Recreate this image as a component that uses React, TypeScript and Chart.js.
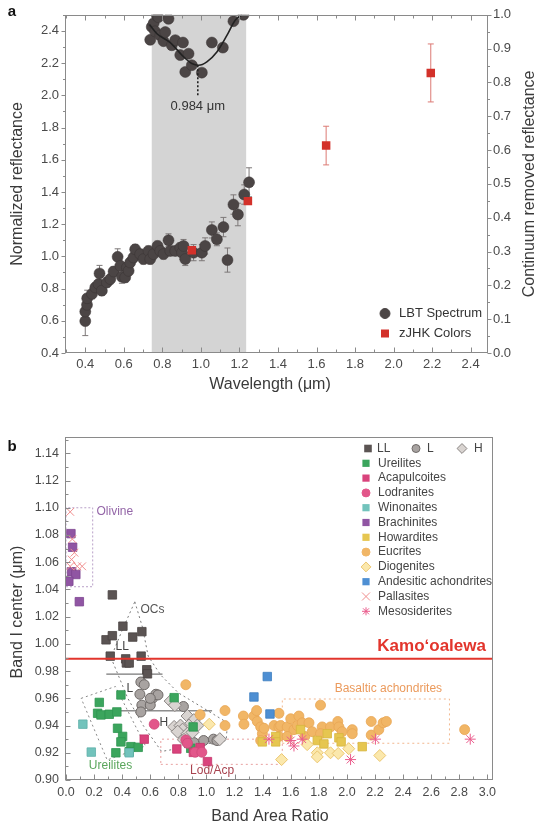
import React, { useEffect, useRef } from "react";
import { Chart, registerables } from "chart.js";

Chart.register(...registerables);

const FONT = '"Liberation Sans", Arial, Helvetica, sans-serif';
const AXIS = "#8a8a8a";
const TICK_COLOR = "#4a4a4a";
const TITLE_COLOR = "#3a3a3a";

// ---------------- Panel a data ----------------
const lbtWavelength = [0.40, 0.40, 0.409, 0.41, 0.435, 0.452, 0.469, 0.474, 0.486, 0.512, 0.53, 0.547, 0.568, 0.582, 0.59, 0.607, 0.616, 0.625, 0.633, 0.65, 0.659, 0.685, 0.702, 0.728, 0.737, 0.754, 0.775, 0.789, 0.806, 0.832, 0.841, 0.867, 0.893, 0.902, 0.91, 0.919, 0.962, 1.005, 1.022, 1.057, 1.083, 1.117, 1.138, 1.169, 1.192, 1.225, 1.25];
const lbtReflectance = [0.598, 0.657, 0.699, 0.74, 0.767, 0.807, 0.828, 0.894, 0.787, 0.838, 0.859, 0.906, 0.997, 0.941, 0.873, 0.869, 0.931, 0.91, 0.962, 0.993, 1.044, 1.014, 0.983, 1.034, 0.983, 1.014, 1.065, 1.034, 1.014, 1.1, 1.034, 1.034, 1.054, 1.023, 1.065, 0.983, 1.023, 1.023, 1.065, 1.164, 1.106, 1.182, 0.977, 1.322, 1.26, 1.384, 1.46];
const lbtError = [0.09, 0.03, 0.03, 0.05, 0.03, 0.03, 0.03, 0.05, 0.03, 0.03, 0.03, 0.03, 0.05, 0.03, 0.04, 0.03, 0.03, 0.03, 0.03, 0.03, 0.03, 0.03, 0.03, 0.03, 0.03, 0.03, 0.03, 0.03, 0.03, 0.04, 0.03, 0.03, 0.03, 0.04, 0.04, 0.04, 0.05, 0.05, 0.05, 0.05, 0.04, 0.06, 0.075, 0.06, 0.07, 0.06, 0.09];

const zjhkWavelength = [0.953, 1.244, 1.65, 2.193];
const zjhkReflectance = [1.038, 1.343, 1.688, 2.139];
const zjhkError = [0, 0, 0.12, 0.18];

const crWavelength = [0.737, 0.745, 0.755, 0.762, 0.772, 0.779, 0.789, 0.806, 0.815, 0.832, 0.849, 0.867, 0.893, 0.907, 0.919, 0.936, 0.953, 1.005, 1.057, 1.114, 1.169, 1.221];
const crReflectance = [0.926, 0.964, 0.975, 0.951, 0.998, 0.993, 0.939, 0.922, 0.949, 0.988, 0.91, 0.925, 0.881, 0.918, 0.831, 0.885, 0.851, 0.829, 0.918, 0.903, 0.981, 1.0];

const fitWavelength = [0.733, 0.772, 0.841, 0.91, 0.953, 0.988, 1.031, 1.083, 1.135, 1.178, 1.213];
const fitReflectance = [0.971, 0.944, 0.918, 0.876, 0.856, 0.851, 0.861, 0.89, 0.939, 0.984, 1.0];

const bandCenter = 0.984;
const bandCenterDrop = [0.851, 0.757];
const shadeBand = [0.745, 1.235];

const aTicksX = [0.4, 0.6, 0.8, 1.0, 1.2, 1.4, 1.6, 1.8, 2.0, 2.2, 2.4];
const aTicksY = [0.4, 0.6, 0.8, 1.0, 1.2, 1.4, 1.6, 1.8, 2.0, 2.2, 2.4];
const aTicksY2 = [0.0, 0.1, 0.2, 0.3, 0.4, 0.5, 0.6, 0.7, 0.8, 0.9, 1.0];

// ---------------- Panel b data ----------------
const llPoints = [[0.33, 1.036], [0.405, 1.013], [0.285, 1.003], [0.33, 1.006], [0.475, 1.005], [0.54, 1.009], [0.315, 0.991], [0.425, 0.989], [0.43, 0.986], [0.45, 0.986], [0.535, 0.991], [0.575, 0.981], [0.58, 0.978]];
const lPoints = [[0.533, 0.972], [0.557, 0.970], [0.526, 0.963], [0.616, 0.960], [0.64, 0.963], [0.655, 0.9625], [0.54, 0.955], [0.60, 0.955], [0.533, 0.950], [0.836, 0.954], [0.98, 0.929], [1.05, 0.930], [1.075, 0.929], [0.91, 0.9275], [0.60, 0.96]];
const hPoints = [[0.745, 0.958], [0.775, 0.955], [0.865, 0.947], [0.91, 0.944], [0.875, 0.940], [0.77, 0.939], [0.815, 0.940], [0.935, 0.940], [0.83, 0.937], [0.795, 0.9355], [0.865, 0.934], [1.095, 0.930], [0.84, 0.9295], [0.90, 0.935]];
const ureilitePoints = [[0.391, 0.9625], [0.237, 0.957], [0.225, 0.949], [0.249, 0.9478], [0.308, 0.9483], [0.362, 0.950], [0.367, 0.938], [0.403, 0.932], [0.391, 0.928], [0.462, 0.9245], [0.514, 0.924], [0.45, 0.9208], [0.355, 0.920], [0.77, 0.9605], [0.905, 0.939], [0.888, 0.9233]];
const acapulcoitePoints = [[0.557, 0.930], [0.789, 0.9228], [0.907, 0.9203], [0.955, 0.9238], [1.007, 0.9135]];
const lodranitePoints = [[0.628, 0.941], [0.853, 0.9294], [0.865, 0.927], [0.919, 0.9204], [0.967, 0.9204]];
const winonaitePoints = [[0.12, 0.941], [0.18, 0.9205], [0.45, 0.920]];
const brachinitePoints = [[0.035, 1.081], [0.047, 1.071], [0.04, 1.053], [0.07, 1.051], [0.02, 1.046], [0.095, 1.031]];
const howarditePoints = [[1.398, 0.928], [1.493, 0.932], [1.493, 0.928], [1.67, 0.937], [1.789, 0.929], [1.836, 0.9265], [1.86, 0.934], [1.943, 0.931], [1.959, 0.928], [2.109, 0.9245]];
const eucritePoints = [[0.853, 0.970], [0.955, 0.948], [1.132, 0.951], [1.132, 0.940], [1.263, 0.947], [1.267, 0.941], [1.338, 0.947], [1.357, 0.951], [1.362, 0.943], [1.386, 0.939], [1.398, 0.934], [1.386, 0.929], [1.41, 0.938], [1.481, 0.940], [1.516, 0.949], [1.516, 0.939], [1.528, 0.940], [1.516, 0.932], [1.575, 0.939], [1.575, 0.932], [1.60, 0.945], [1.623, 0.937], [1.658, 0.947], [1.647, 0.940], [1.682, 0.942], [1.70, 0.932], [1.73, 0.942], [1.753, 0.9355], [1.812, 0.955], [1.824, 0.939], [1.812, 0.934], [1.883, 0.939], [1.935, 0.943], [1.943, 0.939], [1.966, 0.9355], [2.038, 0.937], [2.038, 0.934], [2.173, 0.943], [2.173, 0.933], [2.227, 0.937], [2.258, 0.942], [2.281, 0.943], [2.838, 0.937]];
const diogenitePoints = [[1.02, 0.941], [1.535, 0.915], [1.717, 0.926], [1.789, 0.920], [1.789, 0.917], [1.883, 0.920], [1.938, 0.9195], [2.013, 0.923], [2.234, 0.918]];
const andesiticPoints = [[1.433, 0.976], [1.338, 0.961], [1.452, 0.9485]];
const pallasitePoints = [[0.03, 1.097], [0.045, 1.077], [0.06, 1.067], [0.04, 1.062], [0.03, 1.057], [0.08, 1.057], [0.115, 1.057]];
const mesosideritePoints = [[1.445, 0.930], [1.623, 0.925], [1.682, 0.930], [1.60, 0.929], [2.026, 0.915], [2.203, 0.930], [2.878, 0.930]];

const kamoBandCenter = 0.989;
const olivineBox = [[0.0, 1.042], [0.19, 1.042], [0.19, 1.100], [0.0, 1.100]];
const ocsRegion = [[0.49, 1.031], [0.545, 1.012], [0.585, 0.991], [0.675, 0.977], [0.80, 0.964], [0.96, 0.954], [1.15, 0.942], [1.14, 0.929], [0.97, 0.926], [0.68, 0.921], [0.55, 0.94], [0.44, 0.96], [0.32, 0.99], [0.40, 1.01], [0.49, 1.031]];
const ureiliteRegion = [[0.108, 0.960], [0.352, 0.9687], [0.566, 0.925], [0.293, 0.9147], [0.108, 0.960]];
const lodAcpBox = [[0.675, 0.9115], [1.54, 0.9115], [1.54, 0.930], [0.675, 0.930], [0.675, 0.9115]];
const basalticBox = [[1.54, 0.927], [2.73, 0.927], [2.73, 0.9595], [1.54, 0.9595], [1.54, 0.927]];
const llLBoundary = [[0.287, 0.9778], [0.687, 0.9778]];
const lHBoundary = [[0.359, 0.9508], [1.04, 0.9508]];

const bTicksX = [0.0, 0.2, 0.4, 0.6, 0.8, 1.0, 1.2, 1.4, 1.6, 1.8, 2.0, 2.2, 2.4, 2.6, 2.8, 3.0];
const bTicksY = [0.90, 0.92, 0.94, 0.96, 0.98, 1.00, 1.02, 1.04, 1.06, 1.08, 1.10, 1.12, 1.14];

// ---------------- helpers ----------------
const pts = (arr: number[][]) => arr.map(([x, y]) => ({ x, y }));
const zip = (xs: number[], ys: number[]) => xs.map((x, i) => ({ x, y: ys[i] }));

function stepRange(a: number, b: number, s: number) {
  const out: number[] = [];
  const n = Math.round((b - a) / s);
  for (let i = 0; i <= n; i++) out.push(+(a + i * s).toFixed(4));
  return out;
}

function linScale(min: number, max: number, ticks: number[], dec: number, position: string, size: number, pad: number, fontSize: number) {
  return {
    type: "linear",
    position,
    min,
    max,
    grid: { display: false, drawTicks: false },
    border: { display: false },
    ticks: {
      color: TICK_COLOR,
      font: { family: FONT, size: fontSize },
      padding: pad,
      autoSkip: false,
      maxRotation: 0,
      callback: (v: any) => Number(v).toFixed(dec),
    },
    afterBuildTicks: (s: any) => {
      s.ticks = ticks.map((v) => ({ value: v }));
    },
    afterFit: (s: any) => {
      if (position === "left" || position === "right") s.width = size;
      else s.height = size;
    },
  };
}

function tickMarks(ctx: CanvasRenderingContext2D, scale: any, values: number[], len: number, axis: "x" | "y", at: number, dir: number) {
  ctx.beginPath();
  for (const v of values) {
    const p = Math.round(scale.getPixelForValue(v)) + 0.5;
    if (axis === "x") {
      ctx.moveTo(p, at);
      ctx.lineTo(p, at + dir * len);
    } else {
      ctx.moveTo(at, p);
      ctx.lineTo(at + dir * len, p);
    }
  }
  ctx.stroke();
}

function frame(ctx: CanvasRenderingContext2D, ca: any) {
  ctx.strokeStyle = AXIS;
  ctx.lineWidth = 1;
  const l = Math.round(ca.left) - 0.5;
  const t = Math.round(ca.top) + 0.5;
  const r = Math.round(ca.right) - 0.5;
  const b = Math.round(ca.bottom) - 0.5;
  ctx.strokeRect(l, t, r - l, b - t);
}

function text(ctx: CanvasRenderingContext2D, s: string, x: number, y: number, font: string, color: string, align: CanvasTextAlign = "center", rot = 0) {
  ctx.save();
  ctx.font = font;
  ctx.fillStyle = color;
  ctx.textAlign = align;
  ctx.textBaseline = "middle";
  ctx.translate(x, y);
  if (rot) ctx.rotate(rot);
  ctx.fillText(s, 0, 0);
  ctx.restore();
}

function marker(ctx: CanvasRenderingContext2D, shape: string, x: number, y: number, r: number, fill: string, stroke: string) {
  ctx.save();
  ctx.fillStyle = fill;
  ctx.strokeStyle = stroke;
  ctx.lineWidth = 1;
  ctx.beginPath();
  if (shape === "rect") {
    ctx.rect(x - r, y - r, 2 * r, 2 * r);
    ctx.fill();
  } else if (shape === "circle") {
    ctx.arc(x, y, r, 0, Math.PI * 2);
    ctx.fill();
    ctx.stroke();
  } else if (shape === "diamond") {
    ctx.moveTo(x, y - r * 1.3);
    ctx.lineTo(x + r * 1.3, y);
    ctx.lineTo(x, y + r * 1.3);
    ctx.lineTo(x - r * 1.3, y);
    ctx.closePath();
    ctx.fill();
    ctx.stroke();
  } else if (shape === "cross") {
    ctx.moveTo(x - r, y - r);
    ctx.lineTo(x + r, y + r);
    ctx.moveTo(x + r, y - r);
    ctx.lineTo(x - r, y + r);
    ctx.stroke();
  } else if (shape === "star") {
    const d = r * 0.75;
    ctx.moveTo(x - d, y - d);
    ctx.lineTo(x + d, y + d);
    ctx.moveTo(x + d, y - d);
    ctx.lineTo(x - d, y + d);
    ctx.moveTo(x, y - r);
    ctx.lineTo(x, y + r);
    ctx.moveTo(x - r, y);
    ctx.lineTo(x + r, y);
    ctx.stroke();
  }
  ctx.restore();
}

// ---------------- colors ----------------
const C = {
  lbt: "#4b4545",
  zjhk: "#d3312a",
  ll: "#5b5453",
  lFill: "#a8a3a1",
  lEdge: "#6f6a68",
  hFill: "#d9d4d1",
  hEdge: "#8a8583",
  ureilite: "#3ba55d",
  acap: "#d9437c",
  lod: "#e2568a",
  win: "#72c3bc",
  brach: "#9055a3",
  how: "#e6c650",
  euc: "#f1b666",
  eucEdge: "#e8a654",
  dioFill: "#fbe8ac",
  dioEdge: "#ebc670",
  and: "#4e8fd3",
  pall: "#f08e8e",
  meso: "#ea5c8c",
  kamo: "#e2352c",
};

// ---------------- Panel a config ----------------
function configA(): any {
  const plugin = {
    id: "panelA",
    beforeDatasetsDraw(chart: any) {
      const { ctx, chartArea: ca } = chart;
      const xs = chart.scales.x;
      const ys = chart.scales.y;
      ctx.save();
      ctx.fillStyle = "#d4d4d4";
      const x0 = xs.getPixelForValue(shadeBand[0]);
      const x1 = xs.getPixelForValue(shadeBand[1]);
      ctx.fillRect(x0, ca.top, x1 - x0, ca.bottom - ca.top);
      const bar = (xv: number, yv: number, e: number, color: string) => {
        if (!e) return;
        const px = xs.getPixelForValue(xv);
        const p1 = ys.getPixelForValue(yv - e);
        const p2 = ys.getPixelForValue(yv + e);
        ctx.strokeStyle = color;
        ctx.lineWidth = 1;
        ctx.beginPath();
        ctx.moveTo(px, p1);
        ctx.lineTo(px, p2);
        ctx.moveTo(px - 3, p1);
        ctx.lineTo(px + 3, p1);
        ctx.moveTo(px - 3, p2);
        ctx.lineTo(px + 3, p2);
        ctx.stroke();
      };
      lbtWavelength.forEach((w, i) => bar(w, lbtReflectance[i], lbtError[i], "#7d7878"));
      zjhkWavelength.forEach((w, i) => bar(w, zjhkReflectance[i], zjhkError[i], "#dc7a74"));
      ctx.restore();
    },
    afterDraw(chart: any) {
      const { ctx, chartArea: ca } = chart;
      const xs = chart.scales.x;
      const ys = chart.scales.y;
      const y2 = chart.scales.y2;
      ctx.save();
      frame(ctx, ca);
      ctx.strokeStyle = AXIS;
      ctx.lineWidth = 1;
      const bot = Math.round(ca.bottom) - 0.5;
      const top = Math.round(ca.top) + 0.5;
      tickMarks(ctx, xs, aTicksX, 5, "x", bot, -1);
      tickMarks(ctx, xs, stepRange(0.3, 2.4, 0.1), 3, "x", bot, -1);
      tickMarks(ctx, xs, aTicksX, 5, "x", top, 1);
      tickMarks(ctx, xs, stepRange(0.3, 2.4, 0.1), 3, "x", top, 1);
      tickMarks(ctx, ys, aTicksY, 4, "y", Math.round(ca.left) - 0.5, -1);
      tickMarks(ctx, ys, stepRange(0.5, 2.5, 0.1), 2.5, "y", Math.round(ca.left) - 0.5, -1);
      tickMarks(ctx, y2, aTicksY2, 4, "y", Math.round(ca.right) - 0.5, 1);
      tickMarks(ctx, y2, stepRange(0.05, 0.95, 0.1), 2.5, "y", Math.round(ca.right) - 0.5, 1);

      // band center annotation text
      const bx = xs.getPixelForValue(bandCenter);
      const by = y2.getPixelForValue(bandCenterDrop[1]);
      text(ctx, "0.984 \u03bcm", bx, by + 9, `13px ${FONT}`, "#333");

      // legend
      marker(ctx, "circle", 385, 313.5, 5, C.lbt, C.lbt);
      text(ctx, "LBT Spectrum", 399, 313.5, `13px ${FONT}`, "#333", "left");
      marker(ctx, "rect", 385, 333.5, 4, C.zjhk, C.zjhk);
      text(ctx, "zJHK Colors", 399, 333.5, `13px ${FONT}`, "#333", "left");

      // titles
      text(ctx, "Wavelength (\u03bcm)", 270, 385, `16px ${FONT}`, TITLE_COLOR);
      text(ctx, "Normalized reflectance", 18, (ca.top + ca.bottom) / 2, `16px ${FONT}`, TITLE_COLOR, "center", -Math.PI / 2);
      text(ctx, "Continuum removed reflectance", 530, (ca.top + ca.bottom) / 2, `16px ${FONT}`, TITLE_COLOR, "center", -Math.PI / 2);
      text(ctx, "a", 12, 12, `bold 15px ${FONT}`, "#111");
      ctx.restore();
    },
  };

  return {
    type: "scatter",
    data: {
      datasets: [
        {
          label: "fit",
          yAxisID: "y2",
          data: zip(fitWavelength, fitReflectance),
          showLine: true,
          borderColor: "#222",
          borderWidth: 1.6,
          pointRadius: 0,
          cubicInterpolationMode: "monotone",
          clip: 0,
        },
        {
          label: "drop",
          yAxisID: "y2",
          data: [
            { x: bandCenter, y: bandCenterDrop[0] },
            { x: bandCenter, y: bandCenterDrop[1] },
          ],
          showLine: true,
          borderColor: "#222",
          borderWidth: 1.6,
          borderDash: [2, 2],
          pointRadius: 0,
        },
        {
          label: "zJHK Colors",
          yAxisID: "y",
          data: zip(zjhkWavelength, zjhkReflectance),
          pointStyle: "rect",
          pointRadius: 6,
          backgroundColor: C.zjhk,
          borderColor: C.zjhk,
          borderWidth: 0,
        },
        {
          label: "continuum",
          yAxisID: "y2",
          data: zip(crWavelength, crReflectance),
          pointStyle: "circle",
          pointRadius: 5.5,
          backgroundColor: C.lbt,
          borderColor: "#3a3535",
          borderWidth: 0.5,
          clip: 0,
        },
        {
          label: "LBT Spectrum",
          yAxisID: "y",
          data: zip(lbtWavelength, lbtReflectance),
          pointStyle: "circle",
          pointRadius: 5.5,
          backgroundColor: C.lbt,
          borderColor: "#3a3535",
          borderWidth: 0.5,
        },
      ],
    },
    options: {
      responsive: false,
      animation: false,
      events: [],
      layout: { padding: { top: 13, left: 0, right: 0, bottom: 0 } },
      plugins: { legend: { display: false }, tooltip: { enabled: false } },
      scales: {
        x: linScale(0.3, 2.49, aTicksX, 1, "bottom", 47, 4, 13),
        y: linScale(0.4, 2.5, aTicksY, 1, "left", 66, 7, 13),
        y2: linScale(0, 1, aTicksY2, 1, "right", 50, 5, 13),
      },
    },
    plugins: [plugin],
  };
}

// ---------------- Panel b config ----------------
const legendRows = [
  { label: "Ureilites", shape: "rect", fill: C.ureilite, edge: C.ureilite },
  { label: "Acapulcoites", shape: "rect", fill: C.acap, edge: C.acap },
  { label: "Lodranites", shape: "circle", fill: C.lod, edge: C.lod },
  { label: "Winonaites", shape: "rect", fill: C.win, edge: C.win },
  { label: "Brachinites", shape: "rect", fill: C.brach, edge: C.brach },
  { label: "Howardites", shape: "rect", fill: C.how, edge: C.how },
  { label: "Eucrites", shape: "circle", fill: C.euc, edge: C.euc },
  { label: "Diogenites", shape: "diamond", fill: C.dioFill, edge: C.dioEdge },
  { label: "Andesitic achondrites", shape: "rect", fill: C.and, edge: C.and },
  { label: "Pallasites", shape: "cross", fill: C.pall, edge: C.pall },
  { label: "Mesosiderites", shape: "star", fill: C.meso, edge: C.meso },
];

function configB(): any {
  const plugin = {
    id: "panelB",
    afterDraw(chart: any) {
      const { ctx, chartArea: ca } = chart;
      const xs = chart.scales.x;
      const ys = chart.scales.y;
      ctx.save();
      frame(ctx, ca);
      ctx.strokeStyle = AXIS;
      ctx.lineWidth = 1;
      const bot = Math.round(ca.bottom) - 0.5;
      const left = Math.round(ca.left) - 0.5;
      tickMarks(ctx, xs, bTicksX, 5, "x", bot, -1);
      tickMarks(ctx, xs, stepRange(0.1, 2.9, 0.2), 3, "x", bot, -1);
      tickMarks(ctx, ys, bTicksY, 5, "y", left, 1);
      tickMarks(ctx, ys, stepRange(0.91, 1.15, 0.02), 3, "y", left, 1);

      const at = (x: number, y: number) => [xs.getPixelForValue(x), ys.getPixelForValue(y)];
      const lab = (s: string, x: number, y: number, color: string, align: CanvasTextAlign, font: string) => {
        const [px, py] = at(x, y);
        text(ctx, s, px, py, font, color, align);
      };
      lab("Olivine", 0.217, 1.0973, "#9466a8", "left", `12px ${FONT}`);
      lab("OCs", 0.53, 1.025, "#555", "left", `12px ${FONT}`);
      lab("LL", 0.40, 0.998, "#444", "center", `12px ${FONT}`);
      lab("L", 0.454, 0.9668, "#444", "center", `12px ${FONT}`);
      lab("H", 0.696, 0.9422, "#444", "center", `12px ${FONT}`);
      lab("Ureilites", 0.317, 0.9103, "#5aa65c", "center", `12px ${FONT}`);
      lab("Lod/Acp", 1.04, 0.9068, "#a8434f", "center", `12px ${FONT}`);
      lab("Basaltic achondrites", 2.295, 0.967, "#eb9a5c", "center", `12px ${FONT}`);
      lab("Kamo\u02bboalewa", 2.99, 0.998, C.kamo, "right", `bold 17px ${FONT}`);

      // legend
      const top0 = 48.5;
      const f = `12px ${FONT}`;
      marker(ctx, "rect", 368, top0, 3.8, C.ll, C.ll);
      text(ctx, "LL", 377, top0, f, "#444", "left");
      marker(ctx, "circle", 416, top0, 4, C.lFill, C.lEdge);
      text(ctx, "L", 427, top0, f, "#444", "left");
      marker(ctx, "diamond", 462, top0, 3.8, C.hFill, C.hEdge);
      text(ctx, "H", 474, top0, f, "#444", "left");
      legendRows.forEach((row, i) => {
        const y = top0 + 14.8 * (i + 1);
        const r = row.shape === "circle" ? 4 : row.shape === "diamond" ? 3.8 : row.shape === "rect" ? 3.6 : 4;
        marker(ctx, row.shape, 366, y, r, row.fill, row.edge);
        text(ctx, row.label, 378, y, f, "#444", "left");
      });

      text(ctx, "Band Area Ratio", 270, 416.5, `16px ${FONT}`, TITLE_COLOR);
      text(ctx, "Band I center (\u03bcm)", 18, 212, `16px ${FONT}`, TITLE_COLOR, "center", -Math.PI / 2);
      text(ctx, "b", 12, 47, `bold 15px ${FONT}`, "#111");
      ctx.restore();
    },
  };

  const region = (label: string, arr: number[][], color: string, dash: number[] | undefined, width = 1) => ({
    label,
    data: pts(arr),
    showLine: true,
    borderColor: color,
    borderWidth: width,
    borderDash: dash,
    pointRadius: 0,
    backgroundColor: "transparent",
    tension: 0,
  });
  const group = (label: string, arr: number[][], style: string, r: number, fill: string, edge: string, bw = 0.8) => ({
    label,
    data: pts(arr),
    pointStyle: style,
    pointRadius: r,
    backgroundColor: fill,
    borderColor: edge,
    borderWidth: bw,
  });

  return {
    type: "scatter",
    data: {
      datasets: [
        region("Kamo'oalewa", [[0, kamoBandCenter], [3.04, kamoBandCenter]], C.kamo, undefined, 2),
        group("LL", llPoints, "rect", 6, C.ll, "#4a4443"),
        group("Mesosiderites", mesosideritePoints, "star", 5.5, C.meso, C.meso, 1),
        group("Pallasites", pallasitePoints, "crossRot", 5.5, C.pall, C.pall, 1),
        group("Andesitic achondrites", andesiticPoints, "rect", 6, C.and, "#3f7fc0"),
        group("Diogenites", diogenitePoints, "rectRot", 6, C.dioFill, C.dioEdge, 1),
        group("Howardites", howarditePoints, "rect", 6, C.how, "#d8b640"),
        group("Eucrites", eucritePoints, "circle", 5, C.euc, C.eucEdge),
        group("Brachinites", brachinitePoints, "rect", 6, C.brach, "#7d4590"),
        group("Winonaites", winonaitePoints, "rect", 6, C.win, "#5fb0a9"),
        group("Lodranites", lodranitePoints, "circle", 5, C.lod, "#cf4878"),
        group("Acapulcoites", acapulcoitePoints, "rect", 6, C.acap, "#c5366c"),
        group("Ureilites", ureilitePoints, "rect", 6, C.ureilite, "#2f9550"),
        group("H", hPoints, "rectRot", 6.5, C.hFill, C.hEdge, 1),
        group("L", lPoints, "circle", 5, C.lFill, C.lEdge, 1),
        region("LL/L", llLBoundary, "#555", undefined, 1),
        region("L/H", lHBoundary, "#555", undefined, 1),
        region("Olivine", olivineBox.concat([olivineBox[0]]), "#b9a0c8", [2, 2]),
        region("OCs", ocsRegion, "#7a7a7a", [2, 3]),
        region("Ureilites region", ureiliteRegion, "#8a8a8a", [2, 3]),
        region("Lod/Acp", lodAcpBox, "#e8a0a0", [2, 3]),
        region("Basaltic achondrites", basalticBox, "#f2b78e", [2, 3]),
      ],
    },
    options: {
      responsive: false,
      animation: false,
      events: [],
      layout: { padding: { top: 37, left: 0, right: 45, bottom: 0 } },
      plugins: { legend: { display: false }, tooltip: { enabled: false } },
      scales: {
        x: linScale(0, 3.04, bTicksX, 1, "bottom", 47, 5, 12.5),
        y: linScale(0.9, 1.152, bTicksY, 2, "left", 66, 7, 12.5),
      },
    },
    plugins: [plugin],
  };
}

export default function App() {
  const refA = useRef<HTMLCanvasElement>(null);
  const refB = useRef<HTMLCanvasElement>(null);
  useEffect(() => {
    const a = new Chart(refA.current as HTMLCanvasElement, configA());
    const b = new Chart(refB.current as HTMLCanvasElement, configB());
    return () => {
      a.destroy();
      b.destroy();
    };
  }, []);
  return (
    <div style={{ position: "absolute", left: 0, top: 0, width: 538, height: 827, background: "#fff" }}>
      <canvas ref={refA} width={538} height={400} style={{ display: "block" }} />
      <canvas ref={refB} width={538} height={427} style={{ display: "block" }} />
    </div>
  );
}
